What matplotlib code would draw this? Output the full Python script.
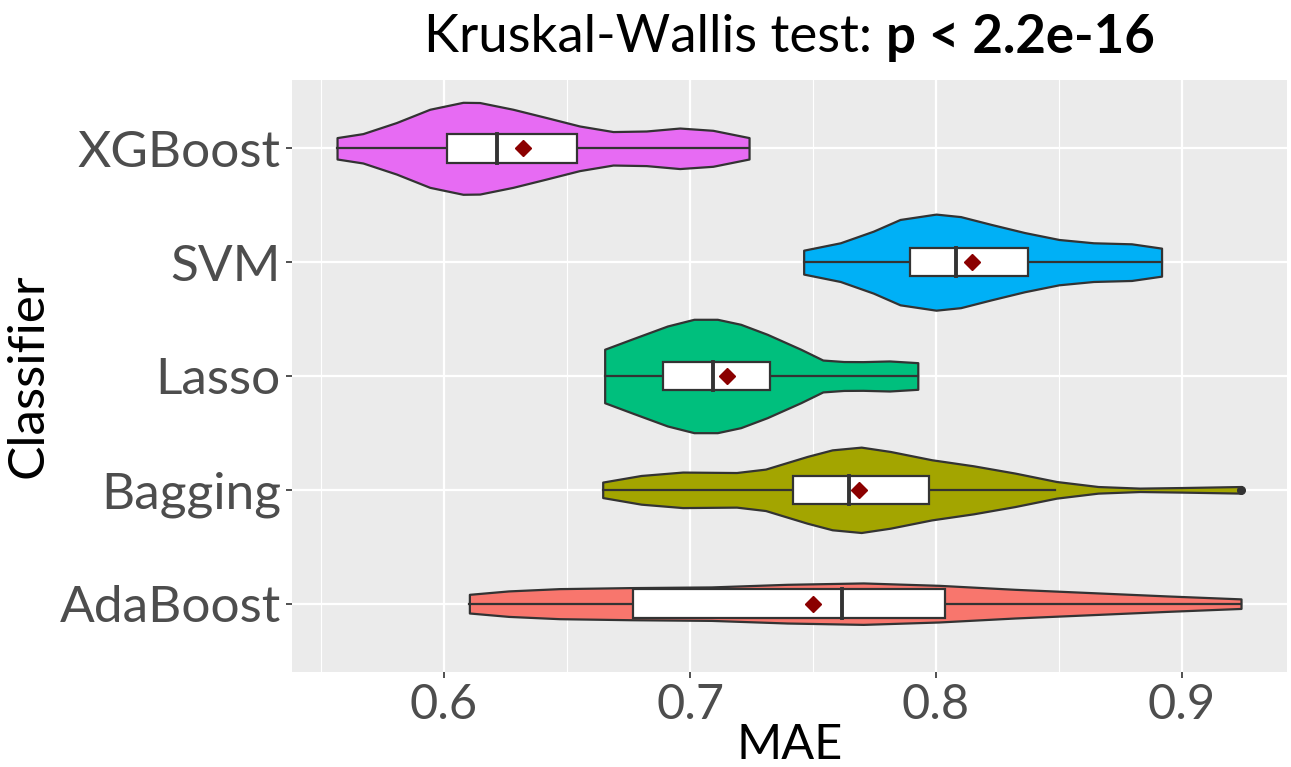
import numpy as np
import matplotlib
matplotlib.use("Agg")
import matplotlib.pyplot as plt

CLASSIFIERS = ["AdaBoost", "Bagging", "Lasso", "SVM", "XGBoost"]
COLORS = ["#F8766D", "#A3A500", "#00BF7D", "#00B0F6", "#E76BF3"]

# violin outlines: MAE value -> half width (category units)
ADA_X = [0.6103, 0.6263, 0.6469, 0.6757, 0.7086, 0.7395, 0.7704, 0.8012, 0.8321, 0.8630, 0.8938, 0.9240]
ADA_W = [0.082, 0.112, 0.132, 0.141, 0.147, 0.170, 0.182, 0.161, 0.126, 0.097, 0.068, 0.042]
BAG_X = [0.6645, 0.6801, 0.6970, 0.7189, 0.7307, 0.7476, 0.7578, 0.7696, 0.7814, 0.7983, 0.8152,
         0.8321, 0.8490, 0.8659, 0.8828, 0.8997, 0.9242]
BAG_W = [0.068, 0.126, 0.156, 0.152, 0.182, 0.293, 0.351, 0.375, 0.337, 0.264, 0.211,
         0.147, 0.073, 0.029, 0.015, 0.020, 0.029]
LAS_X = [0.6653, 0.6772, 0.6908, 0.7016, 0.7111, 0.7206, 0.7314, 0.7450, 0.7540, 0.7625, 0.7703, 0.7811, 0.7926]
LAS_W = [0.235, 0.331, 0.439, 0.498, 0.498, 0.454, 0.366, 0.235, 0.140, 0.127, 0.126, 0.132, 0.117]
SVM_X = [0.7462, 0.7611, 0.7745, 0.7854, 0.8000, 0.8100, 0.8225, 0.8360, 0.8500, 0.8640, 0.8795, 0.8917]
SVM_W = [0.105, 0.170, 0.272, 0.375, 0.422, 0.400, 0.331, 0.260, 0.199, 0.170, 0.161, 0.123]
XGB_X = [0.5565, 0.5670, 0.5806, 0.5942, 0.6077, 0.6145, 0.6280, 0.6416, 0.6551, 0.6687, 0.6822,
         0.6958, 0.7093, 0.7240]
XGB_W = [0.094, 0.129, 0.226, 0.343, 0.404, 0.402, 0.343, 0.270, 0.196, 0.147, 0.152,
         0.178, 0.158, 0.094]

# box statistics, same order as CLASSIFIERS
Q1 = [0.6769, 0.7420, 0.6892, 0.7894, 0.6012]
MEDIAN = [0.7619, 0.7647, 0.7095, 0.8080, 0.6214]
Q3 = [0.8035, 0.7973, 0.7327, 0.8376, 0.6539]
WHISK_LO = [0.6103, 0.6645, 0.6653, 0.7462, 0.5565]
WHISK_HI = [0.9240, 0.8484, 0.7926, 0.8917, 0.7240]
MEANS = [0.7498, 0.7687, 0.7149, 0.8148, 0.6321]
OUTLIERS = {"Bagging": [0.9242]}

PROFILES = [(ADA_X, ADA_W), (BAG_X, BAG_W), (LAS_X, LAS_W), (SVM_X, SVM_W), (XGB_X, XGB_W)]

FONT = ["Lato", "DejaVu Sans"]
plt.rcParams["font.family"] = FONT

fig = plt.figure(figsize=(12.91, 7.67), dpi=100)
ax = fig.add_axes([0.2262, 0.1239, 0.7707, 0.7718])
ax.set_facecolor("#EBEBEB")
for s in ax.spines.values():
    s.set_visible(False)

ax.set_xlim(0.5382, 0.9427)
ax.set_ylim(0.4, 5.6)
ax.set_xticks([0.6, 0.7, 0.8, 0.9])
ax.set_xticks([0.55, 0.65, 0.75, 0.85], minor=True)
ax.set_yticks(range(1, 6))
ax.set_yticklabels(CLASSIFIERS)
ax.grid(which="major", color="white", lw=1.6, zorder=0)
ax.grid(which="minor", axis="x", color="white", lw=0.8, zorder=0)
ax.set_axisbelow(True)
ax.tick_params(which="major", length=4, width=1.2, color="#333333",
               labelcolor="#4D4D4D", pad=4)
ax.tick_params(axis="y", labelsize=37)
ax.tick_params(axis="x", labelsize=35)
ax.tick_params(which="minor", length=0)

box_h = 0.125
lw = 1.6
for i, name in enumerate(CLASSIFIERS):
    y = i + 1
    xs, ws = np.array(PROFILES[i][0]), np.array(PROFILES[i][1])
    ax.fill_between(xs, y - ws, y + ws, facecolor=COLORS[i], edgecolor="#333333",
                    lw=lw, zorder=2, joinstyle="round")
    # whiskers
    ax.plot([WHISK_LO[i], Q1[i]], [y, y], color="#333333", lw=lw, zorder=3)
    ax.plot([Q3[i], WHISK_HI[i]], [y, y], color="#333333", lw=lw, zorder=3)
    # box
    ax.add_patch(plt.Rectangle((Q1[i], y - box_h), Q3[i] - Q1[i], 2 * box_h,
                               facecolor="white", edgecolor="#333333", lw=lw, zorder=3))
    ax.plot([MEDIAN[i], MEDIAN[i]], [y - box_h, y + box_h], color="#333333", lw=2.8, zorder=4)
    for o in OUTLIERS.get(name, []):
        ax.plot(o, y, "o", color="#333333", ms=5.5, zorder=4)
    ax.plot(MEANS[i], y, "D", color="#8B0000", ms=8.5, zorder=5)

ax.set_xlabel("MAE", fontsize=35, color="black", labelpad=-3)
ax.set_ylabel("Classifier", fontsize=37, color="black", labelpad=6)

# title: plain part + bold p-value, centred over the panel
fig.canvas.draw()
r = fig.canvas.get_renderer()
t1 = fig.text(0, 0, "Kruskal-Wallis test: ", fontsize=38, va="center")
t2 = fig.text(0, 0, "p < 2.2e-16", fontsize=38, fontweight="bold", va="center")
w1 = t1.get_window_extent(r).width / fig.bbox.width
w2 = t2.get_window_extent(r).width / fig.bbox.width
cx = 0.2262 + 0.7707 / 2
ty = 1 - 38 / 767
t1.set_position((cx - (w1 + w2) / 2, ty))
t2.set_position((cx - (w1 + w2) / 2 + w1, ty))

fig.savefig("out.png", dpi=100)
